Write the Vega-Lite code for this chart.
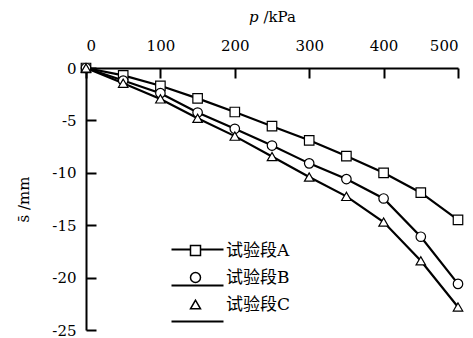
{
  "$schema": "https://vega.github.io/schema/vega-lite/v6.json",
  "autosize": {"type": "none"},
  "width": 372,
  "height": 262,
  "padding": {"left": 86, "top": 68, "right": 15, "bottom": 8},
  "background": "white",
  "config": {
    "view": {"stroke": null},
    "axis": {
      "domainColor": "black", "domainWidth": 2,
      "tickColor": "black", "tickWidth": 2, "tickSize": -10,
      "labelFont": "DejaVu Serif", "labelFontSize": 15, "labelColor": "black",
      "titleFont": "DejaVu Serif", "titleFontSize": 15, "titleColor": "black", "titleFontWeight": "normal",
      "grid": false
    },
    "legend": {
      "labelFont": "DejaVu Serif, Noto Sans CJK SC", "labelFontSize": 17, "labelColor": "black"
    }
  },
  "data": {"values": [
    {"p": 0, "s": 0, "g": "试验段A"},
    {"p": 50, "s": -0.7, "g": "试验段A"},
    {"p": 100, "s": -1.7, "g": "试验段A"},
    {"p": 150, "s": -2.9, "g": "试验段A"},
    {"p": 200, "s": -4.2, "g": "试验段A"},
    {"p": 250, "s": -5.55, "g": "试验段A"},
    {"p": 300, "s": -6.9, "g": "试验段A"},
    {"p": 350, "s": -8.4, "g": "试验段A"},
    {"p": 400, "s": -10.0, "g": "试验段A"},
    {"p": 450, "s": -11.9, "g": "试验段A"},
    {"p": 500, "s": -14.5, "g": "试验段A"},
    {"p": 0, "s": 0, "g": "试验段B"},
    {"p": 50, "s": -1.2, "g": "试验段B"},
    {"p": 100, "s": -2.4, "g": "试验段B"},
    {"p": 150, "s": -4.25, "g": "试验段B"},
    {"p": 200, "s": -5.8, "g": "试验段B"},
    {"p": 250, "s": -7.4, "g": "试验段B"},
    {"p": 300, "s": -9.1, "g": "试验段B"},
    {"p": 350, "s": -10.6, "g": "试验段B"},
    {"p": 400, "s": -12.45, "g": "试验段B"},
    {"p": 450, "s": -16.1, "g": "试验段B"},
    {"p": 500, "s": -20.6, "g": "试验段B"},
    {"p": 0, "s": 0, "g": "试验段C"},
    {"p": 50, "s": -1.45, "g": "试验段C"},
    {"p": 100, "s": -2.95, "g": "试验段C"},
    {"p": 150, "s": -4.8, "g": "试验段C"},
    {"p": 200, "s": -6.5, "g": "试验段C"},
    {"p": 250, "s": -8.45, "g": "试验段C"},
    {"p": 300, "s": -10.4, "g": "试验段C"},
    {"p": 350, "s": -12.25, "g": "试验段C"},
    {"p": 400, "s": -14.7, "g": "试验段C"},
    {"p": 450, "s": -18.4, "g": "试验段C"},
    {"p": 500, "s": -22.8, "g": "试验段C"}
  ]},
  "encoding": {
    "x": {
      "field": "p", "type": "quantitative",
      "scale": {"domain": [0, 500], "nice": false, "zero": false},
      "axis": {"orient": "top", "values": [0, 100, 200, 300, 400, 500], "title": "𝑝 /kPa", "labelPadding": 25, "titlePadding": 14}
    },
    "y": {
      "field": "s", "type": "quantitative",
      "scale": {"domain": [-25, 0], "nice": false},
      "axis": {"values": [0, -5, -10, -15, -20, -25], "title": "s̄ /mm", "labelPadding": 20, "titlePadding": 20,
               "labelExpr": "datum.value == 0 ? '0' : '-' + abs(datum.value)"}
    }
  },
  "layer": [
    {
      "mark": {"type": "line", "strokeWidth": 2.2},
      "encoding": {
        "color": {
          "field": "g", "type": "nominal",
          "scale": {"domain": ["试验段A", "试验段B", "试验段C"], "range": ["black", "black", "black"]},
          "legend": {
            "title": null, "orient": "none", "legendX": 84, "legendY": 154,
            "symbolType": "stroke", "symbolSize": 2704, "symbolStrokeWidth": 2.2,
            "labelExpr": "' '", "labelOffset": 23, "rowPadding": -11
          }
        }
      }
    },
    {
      "mark": {"type": "point", "filled": false, "fill": "white", "stroke": "black", "strokeWidth": 1.2, "opacity": 1},
      "encoding": {
        "shape": {
          "field": "g", "type": "nominal",
          "scale": {"range": ["square", "circle", "triangle-up"]},
          "legend": {
            "title": null, "orient": "none", "legendX": 101, "legendY": 174,
            "labelOffset": 22, "rowPadding": 9
          }
        },
        "size": {"value": 90}
      }
    }
  ]
}
